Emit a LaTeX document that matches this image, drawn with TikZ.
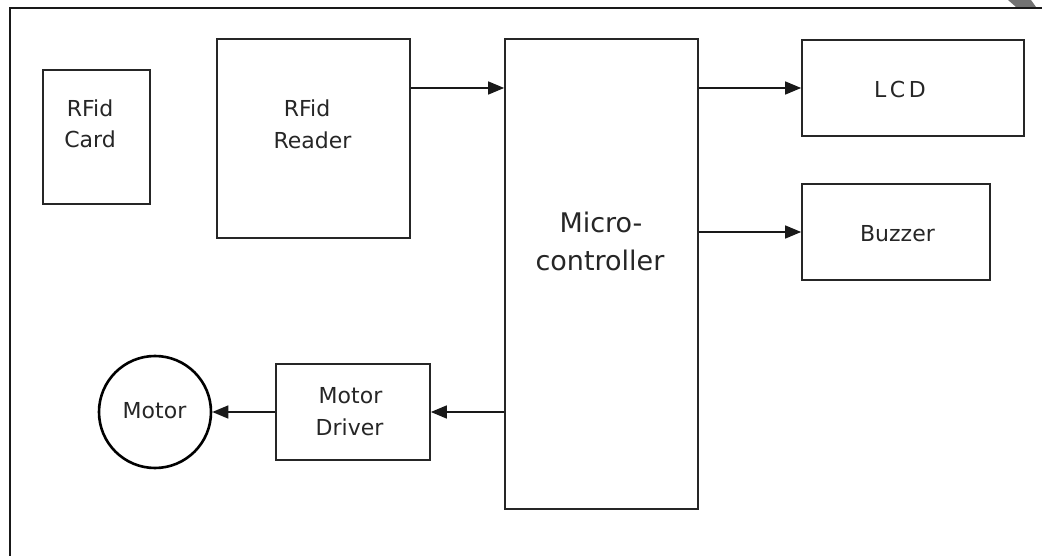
\documentclass[tikz,border=0pt]{standalone}
\usepackage{fontspec}
\setmainfont{DejaVu Sans}
\usetikzlibrary{arrows.meta}
\begin{document}
\begin{tikzpicture}[x=1pt,y=-1pt,
  blk/.style={draw=black!85,line width=1.7pt,inner sep=0pt,minimum width=#1},
  lbl/.style={anchor=base,inner sep=0pt,text=black!85,font=\fontsize{22}{26}\selectfont},
  biglbl/.style={anchor=base,inner sep=0pt,text=black!85,font=\fontsize{27}{32}\selectfont},
  conn/.style={draw=black!90,line width=1.5pt,-{Triangle[length=16pt,width=13pt]}},
  frame/.style={draw=black!90,line width=1.6pt}]
\useasboundingbox (0,0) rectangle (1042,556);
% outer frame (cut off at right and bottom)
\draw[frame] (10,556) -- (10,8) -- (1042,8);
\fill[black!55] (1008,0) -- (1031,0) -- (1036,7) -- (1016,7) -- cycle;
% boxes
\node[blk=107pt,minimum height=134pt] (card) at (96.5,137) {};
\node[blk=193pt,minimum height=199pt] (reader) at (313.5,138.5) {};
\node[blk=193pt,minimum height=470pt] (mcu) at (601.5,274) {};
\node[blk=222pt,minimum height=96pt] (lcd) at (913,88) {};
\node[blk=188pt,minimum height=96pt] (buzzer) at (896,232) {};
\node[blk=154pt,minimum height=96pt] (driver) at (353,412) {};
\node[draw=black,line width=2.6pt,circle,minimum size=112pt,inner sep=0pt] (motor) at (155,412) {};
% labels
\node[lbl] (cardA) at (90,117) {RFid};
\node[lbl] (cardB) at (90,148) {Card};
\node[lbl] (readerA) at (307,117) {RFid};
\node[lbl] (readerB) at (312.5,149) {Reader};
\node[biglbl] (mcuA) at (601,233) {Micro-};
\node[biglbl] (mcuB) at (600,271) {controller};
\node[lbl] (lcdA) at (900,98) {L\,C\,D};
\node[lbl] (buzzerA) at (897.5,242) {Buzzer};
\node[lbl] (driverA) at (350.5,403) {Motor};
\node[lbl] (driverB) at (349.5,435) {Driver};
\node[lbl] (motorA) at (154.5,418) {Motor};
% connectors
\draw[conn] (reader.east |- 0,88) -- (mcu.west |- 0,88);
\draw[conn] (mcu.east |- 0,88) -- (lcd.west |- 0,88);
\draw[conn] (mcu.east |- 0,232) -- (buzzer.west);
\draw[conn] (mcu.west |- 0,412) -- (driver.east);
\draw[conn] (driver.west) -- (motor.east);
\end{tikzpicture}
\end{document}
